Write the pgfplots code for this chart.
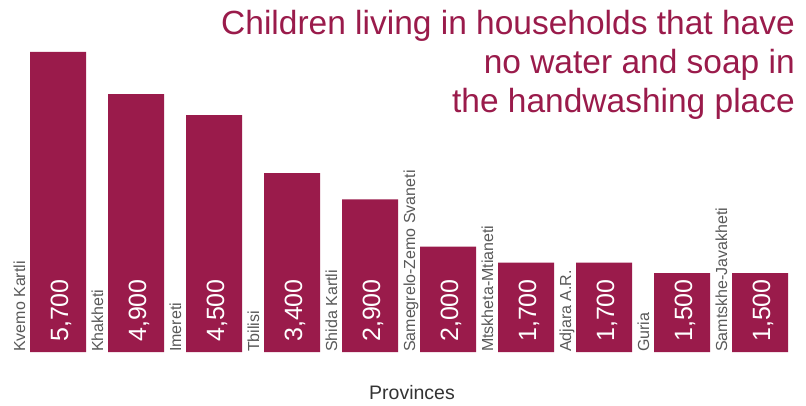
\documentclass[border=0pt]{standalone}
\usepackage{fontspec}
\setmainfont{Liberation Sans}
\usepackage{pgfplots}
\usepackage{pgfplotstable}
\pgfplotsset{compat=1.18}
\definecolor{crim}{HTML}{9A1B4B}
\definecolor{lab}{HTML}{595959}
\definecolor{axl}{HTML}{333333}
\pgfplotstableread{
x y val name
0 5700 5,700 {Kvemo Kartli}
1 4900 4,900 Khakheti
2 4500 4,500 Imereti
3 3400 3,400 Tbilisi
4 2900 2,900 {Shida Kartli}
5 2000 2,000 {Samegrelo-Zemo Svaneti}
6 1700 1,700 Mtskheta-Mtianeti
7 1700 1,700 {Adjara A.R.}
8 1500 1,500 Guria
9 1500 1,500 Samtskhe-Javakheti
}\data
\begin{document}
\begin{tikzpicture}
\path[use as bounding box] (0,-53pt) rectangle (806pt,352pt);
\begin{axis}[
  scale only axis, width=806pt, height=352pt,
  xmin=-0.74359, xmax=9.58974, ymin=0, ymax=6688,
  axis lines=none, clip=false,
]
\addplot[ybar, bar width=56pt, fill=crim, draw=none] table[x=x, y=y] {\data};
\addplot[draw=none, mark=none, nodes near coords, point meta=explicit symbolic,
  nodes near coords style={anchor=base west, xshift=-33pt, rotate=90, inner sep=0pt,
    text=lab, font=\fontsize{16}{16}\selectfont}]
  table[x=x, y expr=0, meta=name] {\data};
\addplot[draw=none, mark=none, nodes near coords, point meta=explicit symbolic,
  nodes near coords style={anchor=west, xshift=3pt, yshift=10pt, rotate=90, inner sep=0pt,
    text=white, font=\fontsize{25}{25}\selectfont}]
  table[x=x, y expr=0, meta=val] {\data};
\end{axis}
\node[anchor=north east, align=right, inner sep=0pt, text=crim,
  font=\fontsize{33.5}{39}\selectfont] at (795pt,341.5pt)
  {Children living in households that have\\no water and soap in\\the handwashing place};
\node[anchor=base, inner sep=0pt, text=axl, font=\fontsize{19.5}{19.5}\selectfont] at (412pt,-47pt) {Provinces};
\end{tikzpicture}
\end{document}
